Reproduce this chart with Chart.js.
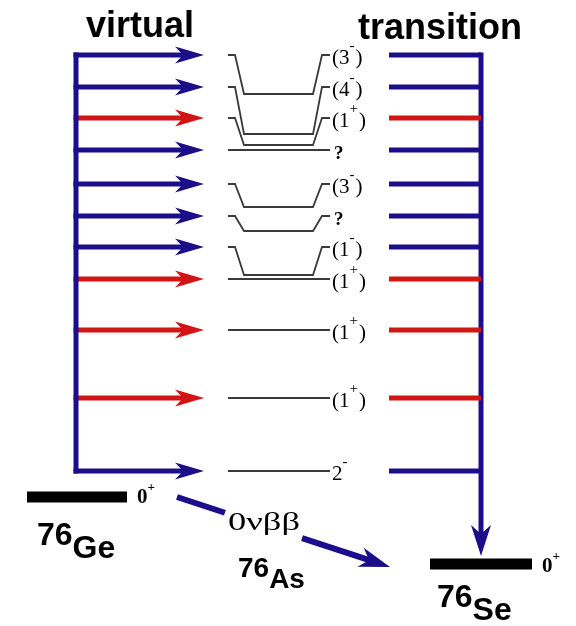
<!DOCTYPE html>
<html>
<head>
<meta charset="utf-8">
<script src="https://cdn.jsdelivr.net/npm/chart.js@4.4.1/dist/chart.umd.min.js"></script>
<style>
  html, body { margin: 0; padding: 0; background: #fff; }
  #wrap { width: 576px; height: 626px; position: relative; }
</style>
</head>
<body>
<div id="wrap"><canvas id="scheme"></canvas></div>
<script>
// intermediate 76As levels (diagram height, top = 0)
const levelY = [55, 87, 118, 150, 184, 216, 247, 279, 330, 398, 471];
// lower edge of the bracket drawn for a level, null = plain line
const bracketBottom = [94, 134, 145, null, 207, 231, 275, null, null, null, null];
const spinLabels = ['(3^-)', '(4^-)', '(1^+)', '?', '(3^-)', '?', '(1^-)', '(1^+)', '(1^+)', '(1^+)', '2^-'];
// b = blue, r = red (1+ states)
const channel = ['b', 'b', 'r', 'b', 'b', 'b', 'b', 'r', 'r', 'r', 'b'];

// ground states
const groundMass = ['76', '76'];
const groundSymbol = ['Ge', 'Se'];
const groundY = [497, 564];
const groundSpin = ['0^+', '0^+'];
const middleNucleus = ['76', 'As'];

const BLUE = '#1c0d8a';
const RED = '#d21414';
const GREY = '#3a3a3a';

// layout in x
const X = {
  leftBar: 76, leftTip: 204,
  lvl0: 228, lvl1: 235, lvl2: 244, lvl3: 313, lvl4: 322, lvl5: 330,
  right0: 389, rightBar: 481,
  ge0: 27, ge1: 127, se0: 430, se1: 532
};
const SMALL_HEAD = [29, 8.5, 8];
const BIG_HEAD = [31, 10, 9];

function colourOf(c) { return c === 'r' ? RED : BLUE; }

function line(points, colour, width, extra) {
  return Object.assign({
    data: points.map(p => ({ x: p[0], y: p[1] })),
    showLine: true, borderColor: colour, backgroundColor: colour,
    borderWidth: width, pointRadius: 0, tension: 0, clip: false,
    borderCapStyle: 'butt', borderJoinStyle: 'miter'
  }, extra || {});
}

// line that stops inside its arrow head; the head is drawn by the plugin
function arrow(from, to, colour, width, head) {
  const dx = to[0] - from[0], dy = to[1] - from[1];
  const d = Math.hypot(dx, dy);
  const back = head[0] - head[2] - 1;
  const end = [to[0] - dx / d * back, to[1] - dy / d * back];
  return line([from, end], colour, width, { tip: { x: to[0], y: to[1] }, head: head });
}

const datasets = [];

// left "virtual" side
const topY = levelY[0], lowY = levelY[levelY.length - 1];
datasets.push(line([[X.leftBar, topY - 2.5], [X.leftBar, lowY + 2.5]], BLUE, 5));
levelY.forEach((y, i) => {
  datasets.push(arrow([X.leftBar - 2.5, y], [X.leftTip, y], colourOf(channel[i]), 5, SMALL_HEAD));
});

// right "transition" side
levelY.forEach((y, i) => {
  datasets.push(line([[X.right0, y], [X.rightBar, y]], colourOf(channel[i]), 5));
});
datasets.push(arrow([X.rightBar, topY - 2.5], [X.rightBar, groundY[1] - 8], BLUE, 5, BIG_HEAD));

// 76As levels
levelY.forEach((y, i) => {
  const b = bracketBottom[i];
  const pts = b === null
    ? [[X.lvl0, y], [X.lvl5, y]]
    : [[X.lvl0, y], [X.lvl1, y], [X.lvl2, b], [X.lvl3, b], [X.lvl4, y], [X.lvl5, y]];
  datasets.push(line(pts, GREY, 1.8));
});

// ground states
datasets.push(line([[X.ge0, groundY[0]], [X.ge1, groundY[0]]], '#000', 11));
datasets.push(line([[X.se0, groundY[1]], [X.se1, groundY[1]]], '#000', 11));

// 0vbb arrow, broken by its label
const decayFrom = [177, 497], decayTo = [390, 567], decayGap = [0.225, 0.587];
const along = t => [decayFrom[0] + (decayTo[0] - decayFrom[0]) * t, decayFrom[1] + (decayTo[1] - decayFrom[1]) * t];
datasets.push(line([decayFrom, along(decayGap[0])], BLUE, 6));
datasets.push(arrow(along(decayGap[1]), decayTo, BLUE, 6, BIG_HEAD));

function rich(ctx, str, x, y, size, family, weight, supDy, supScale) {
  let cx = x;
  for (let i = 0; i < str.length; i++) {
    let ch = str[i], sup = false;
    if (ch === '^') { sup = true; ch = str[++i]; }
    ctx.font = `${weight} ${sup ? Math.round(size * (supScale || 0.62)) : size}px ${family}`;
    ctx.fillText(ch, cx, sup ? y - supDy : y);
    cx += ctx.measureText(ch).width + (sup ? 1 : 0);
  }
}

function nucleus(ctx, mass, sym, x, y, size) {
  ctx.font = `bold ${size}px "Liberation Sans", Arial, sans-serif`;
  ctx.fillText(mass, x, y);
  const w = ctx.measureText(mass).width;
  ctx.fillText(sym, x + w, y + size * 0.4);
}

const arrowHeads = {
  id: 'arrowHeads',
  afterDatasetsDraw(chart) {
    const { ctx, scales: { x, y } } = chart;
    chart.data.datasets.forEach(ds => {
      if (!ds.tip) return;
      const px = x.getPixelForValue(ds.tip.x), py = y.getPixelForValue(ds.tip.y);
      const fx = x.getPixelForValue(ds.data[0].x), fy = y.getPixelForValue(ds.data[0].y);
      const [len, half, notch] = ds.head;
      ctx.save();
      ctx.translate(px, py);
      ctx.rotate(Math.atan2(py - fy, px - fx));
      ctx.beginPath();
      ctx.moveTo(0, 0);
      ctx.lineTo(-len, -half);
      ctx.lineTo(-len + notch, 0);
      ctx.lineTo(-len, half);
      ctx.closePath();
      ctx.fillStyle = ds.borderColor;
      ctx.fill();
      ctx.restore();
    });
  }
};

const labels = {
  id: 'labels',
  afterDraw(chart) {
    const { ctx, scales: { x, y } } = chart;
    const serif = '"Liberation Serif", "Times New Roman", serif';
    ctx.save();
    ctx.fillStyle = '#000';
    ctx.textBaseline = 'alphabetic';
    ctx.textAlign = 'left';

    ctx.font = 'bold 36px "Liberation Sans", Arial, sans-serif';
    ctx.fillText('virtual', x.getPixelForValue(86), y.getPixelForValue(37));
    ctx.fillText('transition', x.getPixelForValue(358), y.getPixelForValue(39));

    levelY.forEach((lv, i) => {
      const s = spinLabels[i];
      const px = x.getPixelForValue(X.lvl5 + 2), py = y.getPixelForValue(lv + 9);
      if (s === '?') rich(ctx, s, px + 2, py, 19, serif, 'bold', 0);
      else rich(ctx, s, px, py, 21, serif, 'normal', 14, 0.72);
    });

    // ground state spins and names
    rich(ctx, groundSpin[0], x.getPixelForValue(X.ge1 + 10), y.getPixelForValue(groundY[0] + 6), 21, serif, 'bold', 12);
    rich(ctx, groundSpin[1], x.getPixelForValue(X.se1 + 10), y.getPixelForValue(groundY[1] + 8), 21, serif, 'bold', 12);
    nucleus(ctx, groundMass[0], groundSymbol[0], x.getPixelForValue(37), y.getPixelForValue(545), 32);
    nucleus(ctx, groundMass[1], groundSymbol[1], x.getPixelForValue(437), y.getPixelForValue(607), 32);
    nucleus(ctx, middleNucleus[0], middleNucleus[1], x.getPixelForValue(238), y.getPixelForValue(577), 28);

    // decay label, stretched to its width in the picture
    ctx.font = `25px ${serif}`;
    const t = '0\u03bd\u03b2\u03b2';
    const w = ctx.measureText(t).width;
    ctx.translate(x.getPixelForValue(228), y.getPixelForValue(530));
    ctx.scale(72 / w, 1);
    ctx.fillText(t, 0, 0);
    ctx.restore();
  }
};

new Chart(document.getElementById('scheme'), {
  type: 'scatter',
  data: { datasets: datasets },
  options: {
    responsive: true,
    maintainAspectRatio: false,
    animation: false,
    layout: { padding: 0 },
    scales: {
      x: { type: 'linear', min: 0, max: 576, display: false },
      y: { type: 'linear', min: 0, max: 626, reverse: true, display: false }
    },
    plugins: { legend: { display: false }, tooltip: { enabled: false } },
    events: []
  },
  plugins: [arrowHeads, labels]
});
</script>
</body>
</html>
